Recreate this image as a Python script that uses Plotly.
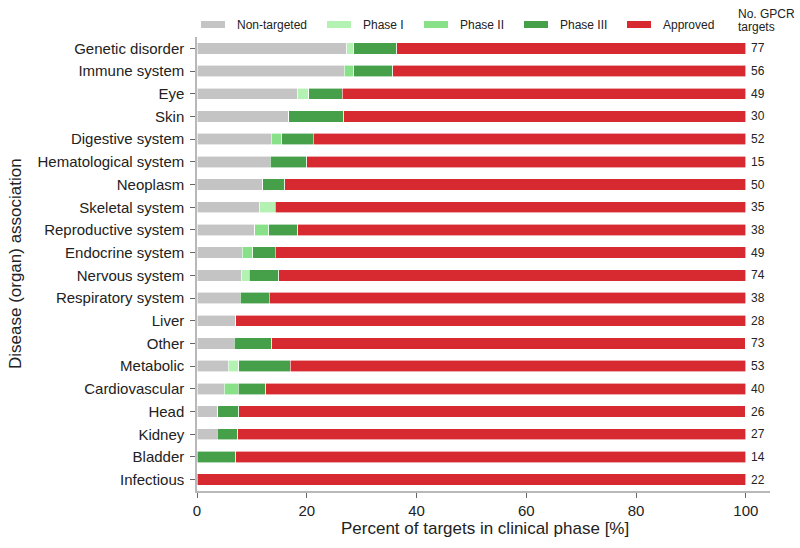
import plotly.graph_objects as go

categories = ["Genetic disorder", "Immune system", "Eye", "Skin", "Digestive system",
              "Hematological system", "Neoplasm", "Skeletal system", "Reproductive system",
              "Endocrine system", "Nervous system", "Respiratory system", "Liver", "Other",
              "Metabolic", "Cardiovascular", "Head", "Kidney", "Bladder", "Infectious"]
non_targeted = [27.3, 26.8, 18.4, 16.7, 13.5, 13.3, 12.0, 11.4, 10.5, 8.2, 8.1, 7.9, 7.1, 6.8, 5.7, 5.0, 3.8, 3.7, 0.0, 0.0]
phase1 = [1.3, 0.0, 2.0, 0.0, 0.0, 0.0, 0.0, 2.9, 0.0, 0.0, 1.4, 0.0, 0.0, 0.0, 1.9, 0.0, 0.0, 0.0, 0.0, 0.0]
phase2 = [0.0, 1.8, 0.0, 0.0, 1.9, 0.0, 0.0, 0.0, 2.6, 2.0, 0.0, 0.0, 0.0, 0.0, 0.0, 2.5, 0.0, 0.0, 0.0, 0.0]
phase3 = [7.8, 7.1, 6.1, 10.0, 5.8, 6.7, 4.0, 0.0, 5.3, 4.1, 5.4, 5.3, 0.0, 6.8, 9.4, 5.0, 3.8, 3.7, 7.1, 0.0]
approved = [63.6, 64.3, 73.5, 73.3, 78.8, 80.0, 84.0, 85.7, 81.6, 85.7, 85.1, 86.8, 92.9, 86.3, 83.0, 87.5, 92.3, 92.6, 92.9, 100.0]
n_targets = [77, 56, 49, 30, 52, 15, 50, 35, 38, 49, 74, 38, 28, 73, 53, 40, 26, 27, 14, 22]
x_ticks = [0, 20, 40, 60, 80, 100]

series_names = ["Non-targeted", "Phase I", "Phase II", "Phase III", "Approved"]
series_values = [non_targeted, phase1, phase2, phase3, approved]
series_colors = ["#c4c4c4", "#b3f2b3", "#88e088", "#46a04a", "#d62a30"]

FONT = "Liberation Sans, Arial, sans-serif"
TXT = "#222222"

# plot area in pixels
W, H = 800, 548
PL, PR, PT, PB = 197, 770, 37, 491


def pxx(px):
    return (px - PL) / (PR - PL)


def pxy(py):
    return (PB - py) / (PB - PT)


fig = go.Figure()
for name, vals, col in zip(series_names, series_values, series_colors):
    fig.add_trace(go.Bar(y=categories, x=vals, orientation="h", name=name,
                         marker=dict(color=col, line=dict(color="white", width=0.6)),
                         showlegend=False))

# count labels right of the bars
for cat, n in zip(categories, n_targets):
    fig.add_annotation(x=100, y=cat, xref="x", yref="y", text=str(n), showarrow=False,
                       xanchor="left", xshift=3, font=dict(size=12, color=TXT, family=FONT))

# "No. GPCR targets" header
fig.add_annotation(xref="paper", yref="paper", x=pxx(736), y=pxy(14), text="No. GPCR",
                   showarrow=False, xanchor="left", yanchor="middle",
                   font=dict(size=12, color=TXT, family=FONT))
fig.add_annotation(xref="paper", yref="paper", x=pxx(736), y=pxy(27), text="targets",
                   showarrow=False, xanchor="left", yanchor="middle",
                   font=dict(size=12, color=TXT, family=FONT))

# manual legend
leg_x = [201, 327, 424, 524, 627]
for name, col, lx in zip(series_names, series_colors, leg_x):
    fig.add_shape(type="rect", xref="paper", yref="paper",
                  x0=pxx(lx), x1=pxx(lx + 24), y0=pxy(28), y1=pxy(21),
                  fillcolor=col, line=dict(width=0))
    fig.add_annotation(xref="paper", yref="paper", x=pxx(lx + 34), y=pxy(24.5),
                       text=name, showarrow=False, xanchor="left", yanchor="middle",
                       font=dict(size=12, color=TXT, family=FONT))

# axis titles
fig.add_annotation(xref="paper", yref="paper", x=pxx(485), y=pxy(528),
                   text="Percent of targets in clinical phase [%]", showarrow=False,
                   xanchor="center", yanchor="middle", font=dict(size=17, color=TXT, family=FONT))
fig.add_annotation(xref="paper", yref="paper", x=pxx(15), y=pxy(264),
                   text="Disease (organ) association", showarrow=False, textangle=-90,
                   xanchor="center", yanchor="middle", font=dict(size=17, color=TXT, family=FONT))

fig.update_layout(
    width=W, height=H,
    margin=dict(l=PL, r=W - PR, t=PT, b=H - PB),
    barmode="stack", bargap=0.5,
    plot_bgcolor="white", paper_bgcolor="white",
    font=dict(family=FONT, color=TXT),
    xaxis=dict(range=[0, 104.4], tickvals=x_ticks, ticks="outside", ticklen=5,
               tickcolor="#666", showline=True, linecolor="#b8b8b8", linewidth=1.5,
               showgrid=False, zeroline=False, automargin=False,
               tickfont=dict(size=15, family=FONT, color=TXT)),
    yaxis=dict(categoryorder="array", categoryarray=categories, autorange=False,
               range=[len(categories) - 0.5, -0.5], ticks="outside", ticklen=5, tickcolor="#666",
               showline=True, linecolor="#b8b8b8", linewidth=1.5, showgrid=False, zeroline=False,
               automargin=False, ticklabelstandoff=3, tickfont=dict(size=15, family=FONT, color=TXT)),
)

fig.write_html("out.html", config={"displayModeBar": False},
               post_script="document.body.style.margin='0';document.body.style.overflow='hidden';")
